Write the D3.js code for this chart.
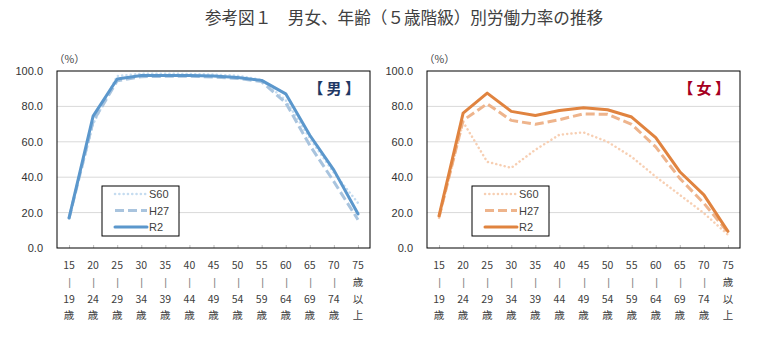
<!DOCTYPE html>
<html><head><meta charset="utf-8">
<script src="https://cdn.jsdelivr.net/npm/d3@7"></script>
<style>
body{margin:0;background:#fff;}
svg{display:block;font-family:"Noto Sans CJK JP","Noto Sans",sans-serif;}
</style></head>
<body>
<svg id="chart" width="763" height="346"></svg>
<script>
const title = "参考図１　男女、年齢（５歳階級）別労働力率の推移";
const categories = ["15-19","20-24","25-29","30-34","35-39","40-44","45-49","50-54","55-59","60-64","65-69","70-74","75+"];
const categoryLabels = [
  ["15","|","19","歳"],["20","|","24","歳"],["25","|","29","歳"],["30","|","34","歳"],
  ["35","|","39","歳"],["40","|","44","歳"],["45","|","49","歳"],["50","|","54","歳"],
  ["55","|","59","歳"],["60","|","64","歳"],["65","|","69","歳"],["70","|","74","歳"],
  ["75","歳","以","上"]
];
const yTicks = [0,20,40,60,80,100];
const seriesNames = ["S60","H27","R2"];

const maleS60 = [17.5,70.0,97.2,98.4,98.5,98.3,98.0,97.3,95.0,83.5,62.0,42.5,25.5];
const maleH27 = [16.8,71.5,94.5,96.8,97.0,97.0,96.6,95.8,94.0,82.0,58.0,37.5,16.0];
const maleR2  = [16.9,74.5,95.5,97.4,97.5,97.5,97.2,96.3,94.7,87.1,63.7,44.0,19.3];

const femaleS60 = [17.0,71.2,48.7,45.3,55.5,64.0,65.3,60.0,51.5,40.3,30.0,19.7,7.5];
const femaleH27 = [17.5,72.1,81.5,72.1,69.9,72.5,75.8,75.5,69.9,57.1,39.3,25.3,8.8];
const femaleR2  = [18.2,76.2,87.5,77.2,74.9,77.7,79.2,78.1,74.0,62.4,43.1,30.0,9.4];

const svg = d3.select("#chart");

svg.append("text").attr("x",404).attr("y",24).attr("text-anchor","middle")
  .attr("font-size",16.6).attr("fill","#404040").text(title);

function panel(opts){
  const {left,right,top,bottom,data,colors,label,labelColor} = opts;
  const g = svg.append("g");
  const x = d3.scalePoint().domain(categories).range([left,right]).padding(0.5);
  const y = d3.scaleLinear().domain([0,100]).range([bottom,top]);

  g.append("g").selectAll("line").data(yTicks.filter(t=>t>0&&t<100)).join("line")
    .attr("x1",left).attr("x2",right).attr("y1",d=>y(d)).attr("y2",d=>y(d))
    .attr("stroke","#d9d9d9").attr("stroke-width",1);

  const ya = g.append("g").attr("transform",`translate(${left},0)`)
    .call(d3.axisLeft(y).tickValues(yTicks).tickFormat(d3.format(".1f")).tickSize(0).tickPadding(14));
  ya.select(".domain").remove();
  ya.selectAll("text").attr("font-size",11).attr("fill","#333")
    .attr("font-family","'Liberation Sans',Arial,sans-serif");

  const xa = g.append("g").attr("transform",`translate(0,${bottom})`)
    .call(d3.axisBottom(x).tickSizeInner(-3).tickSizeOuter(0).tickFormat(""));
  xa.select(".domain").remove();
  xa.selectAll("line").attr("stroke","#bfbfbf");

  const lg = g.append("g").style("opacity",0.995);
  categories.forEach((c,i)=>{
    const t = lg.append("text").attr("text-anchor","middle").attr("font-size",10.5).attr("fill","#404040");
    categoryLabels[i].forEach((s,k)=>{
      const isBar = s==="|";
      t.append("tspan").attr("x",isBar ? Math.round(x(c))+0.5 : x(c)).attr("y",bottom+21+k*16.8)
        .attr("fill", isBar ? "#7f7f7f" : "#404040")
        .attr("font-family", isBar ? "'Liberation Sans',Arial,sans-serif" : null).text(s);
    });
  });

  g.append("text").attr("x",left-3).attr("y",top-8).attr("font-size",10.5).attr("fill","#404040").text("（%）");

  const styles = [
    {w:2.5, dash:"0.1,4.2", cap:"round"},
    {w:3, dash:"9,4", cap:"butt"},
    {w:3, dash:null, cap:"round"}
  ];
  const line = d3.line().x((d,i)=>x(categories[i])).y(d=>y(d));
  data.forEach((arr,si)=>{
    g.append("path").datum(arr).attr("d",line).attr("fill","none")
      .attr("stroke",colors[si]).attr("stroke-width",styles[si].w)
      .attr("stroke-dasharray",styles[si].dash).attr("stroke-linecap",styles[si].cap)
      .attr("stroke-linejoin","round");
  });

  g.append("rect").attr("x",left).attr("y",top).attr("width",right-left).attr("height",bottom-top)
    .attr("fill","none").attr("stroke","#000").attr("stroke-width",1);

  g.append("text").attr("x",right-10).attr("y",top+23).attr("text-anchor","end")
    .attr("font-size",15).attr("font-weight","bold").attr("fill",labelColor).text(label);

  const lx = left+45, ly = top+115;
  const leg = g.append("g");
  leg.append("rect").attr("x",lx).attr("y",ly).attr("width",77).attr("height",50)
    .attr("fill","#fff").attr("stroke","#000").attr("stroke-width",1);
  seriesNames.forEach((n,si)=>{
    const yy = ly+8+si*16.5;
    leg.append("line").attr("x1",lx+13).attr("x2",lx+45).attr("y1",yy).attr("y2",yy)
      .attr("stroke",colors[si]).attr("stroke-width",styles[si].w)
      .attr("stroke-dasharray",styles[si].dash).attr("stroke-linecap",styles[si].cap);
    leg.append("text").attr("x",lx+47).attr("y",yy+4).attr("font-size",11).attr("fill","#404040")
      .attr("font-family","'Liberation Sans',Arial,sans-serif").text(n);
  });
}

panel({left:57,right:370,top:71,bottom:248,data:[maleS60,maleH27,maleR2],
  colors:["#c5dcf0","#a9c4de","#5b97cc"],label:"【 男 】",labelColor:"#1f3864"});
panel({left:427,right:740,top:71,bottom:248,data:[femaleS60,femaleH27,femaleR2],
  colors:["#f7cfb3","#eeb48c","#e0833f"],label:"【 女 】",labelColor:"#a50021"});
</script>
</body></html>
